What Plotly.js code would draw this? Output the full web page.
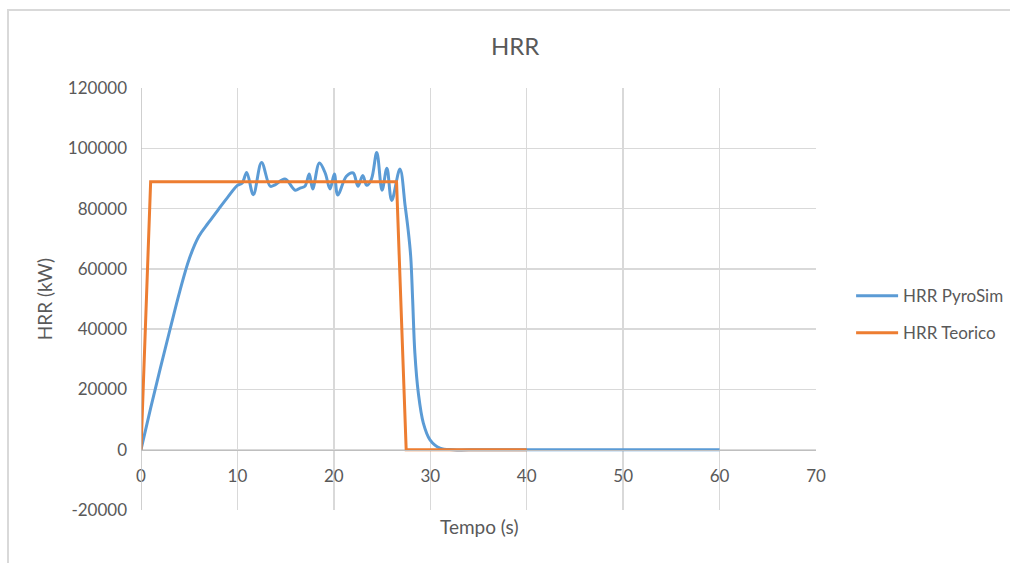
<!DOCTYPE html>
<html>
<head>
<meta charset="utf-8">
<script src="https://cdn.plot.ly/plotly-3.0.1.min.js"></script>
<style>
  html, body { margin: 0; padding: 0; background: #ffffff; }
  #frame { position: absolute; left: 7px; top: 9px; width: 1010px; height: 560px;
           border-top: 2px solid #d9d9d9; border-left: 2px solid #d9d9d9; box-sizing: border-box; }
  #chart { position: absolute; left: 0; top: 0; width: 1010px; height: 563px; }
</style>
</head>
<body>
<div id="frame"></div>
<div id="chart"></div>
<script>
// ---- data ----
const chartTitle = "HRR";
const xTitle = "Tempo (s)";
const yTitle = "HRR (kW)";

const pyroName = "HRR PyroSim";
const pyroTime = [0, 1, 2, 3, 4, 5, 6, 7, 8, 9, 10, 10.5, 10.96, 11.65, 12.5, 13.4, 13.9, 14.93, 16.0, 16.5, 17.0, 17.45, 17.8, 18.5, 19.1, 19.6, 20.05, 20.4, 21.3, 22.0, 22.5, 23.0, 23.4, 23.9, 24.45, 25.0, 25.5, 26.0, 26.85, 27.4, 27.7, 27.97, 28.17, 28.4, 28.76, 29.28, 29.97, 31.0, 32.4, 35, 40, 45, 50, 55, 60];
const pyroHRR  = [0, 13800, 27000, 39800, 52300, 63300, 70800, 75300, 79600, 83800, 87700, 88500, 92000, 84600, 95300, 87400, 87900, 89800, 86100, 86800, 87400, 91500, 86500, 95100, 91800, 86500, 91500, 84500, 90700, 91800, 87400, 91000, 87700, 89800, 98600, 86100, 93400, 82700, 93100, 80700, 73000, 64100, 49800, 32100, 18800, 8850, 3300, 560, 0, 0, 0, 0, 0, 0, 0];

const teoName = "HRR Teorico";
const teoTime = [0, 1, 26.5, 27.5, 40];
const teoHRR  = [0, 88900, 88900, 0, 0];

const xTicks = [0, 10, 20, 30, 40, 50, 60, 70];
const yTicks = [-20000, 0, 20000, 40000, 60000, 80000, 100000, 120000];

// ---- chart ----
const textColor = "#595959";
const fontFam = "Lato, 'Open Sans', sans-serif";

const traces = [
  { x: pyroTime, y: pyroHRR, name: pyroName, type: "scatter", mode: "lines",
    line: { color: "#5b9bd5", width: 3, shape: "spline", smoothing: 1 },
    legendgroup: "a" },
  { x: teoTime, y: teoHRR, name: teoName, type: "scatter", mode: "lines",
    line: { color: "#ed7d31", width: 3 },
    legendgroup: "b" }
];

const zeroFrac = (0 - yTicks[0]) / (yTicks[yTicks.length - 1] - yTicks[0]);

const layout = {
  width: 1010, height: 563,
  paper_bgcolor: "rgba(0,0,0,0)", plot_bgcolor: "rgba(0,0,0,0)",
  margin: { l: 141, r: 194, t: 88, b: 53, pad: 0, autoexpand: false },
  font: { family: fontFam, color: textColor, size: 17 },
  title: { text: chartTitle, font: { family: fontFam, size: 24, color: textColor },
           x: 0.51, xanchor: "center", xref: "container", y: 0.917, yanchor: "middle", yref: "container" },
  xaxis: {
    range: [xTicks[0], xTicks[xTicks.length - 1]],
    tickvals: xTicks, ticktext: xTicks.map(String),
    anchor: "free", position: zeroFrac,
    showgrid: true, gridcolor: "#d9d9d9", gridwidth: 1.3,
    showline: true, linecolor: "#bfbfbf", linewidth: 1.5,
    zeroline: false, ticks: "", ticklen: 0,
    ticklabelstandoff: 10,
    tickfont: { size: 17, color: textColor, family: fontFam },
    automargin: false,
    fixedrange: true
  },
  yaxis: {
    range: [yTicks[0], yTicks[yTicks.length - 1]],
    tickvals: yTicks, ticktext: yTicks.map(String),
    showgrid: true, gridcolor: "#d9d9d9", gridwidth: 1.3,
    showline: false, zeroline: false, ticks: "",
    ticklabelstandoff: 13,
    tickfont: { size: 17, color: textColor, family: fontFam },
    title: { text: yTitle, font: { size: 19, color: textColor, family: fontFam }, standoff: 10 },
    automargin: false,
    fixedrange: true
  },
  shapes: [
    { type: "line", xref: "x", yref: "paper", x0: 0, x1: 0, y0: 0, y1: 1,
      line: { color: "#bfbfbf", width: 1.5 } }
  ],
  annotations: [
    { text: xTitle, xref: "paper", yref: "paper", x: 0.5, y: -0.04, xanchor: "center", yanchor: "middle",
      showarrow: false, font: { size: 19, color: textColor, family: fontFam } }
  ],
  showlegend: true,
  legend: {
    x: 1.052, xanchor: "left", y: 0.463, yanchor: "middle",
    traceorder: "grouped", tracegroupgap: 12, itemwidth: 42,
    font: { size: 17, color: textColor, family: fontFam },
    bgcolor: "rgba(0,0,0,0)", borderwidth: 0
  }
};

Plotly.newPlot("chart", traces, layout, { displayModeBar: false, staticPlot: true });
</script>
</body>
</html>
